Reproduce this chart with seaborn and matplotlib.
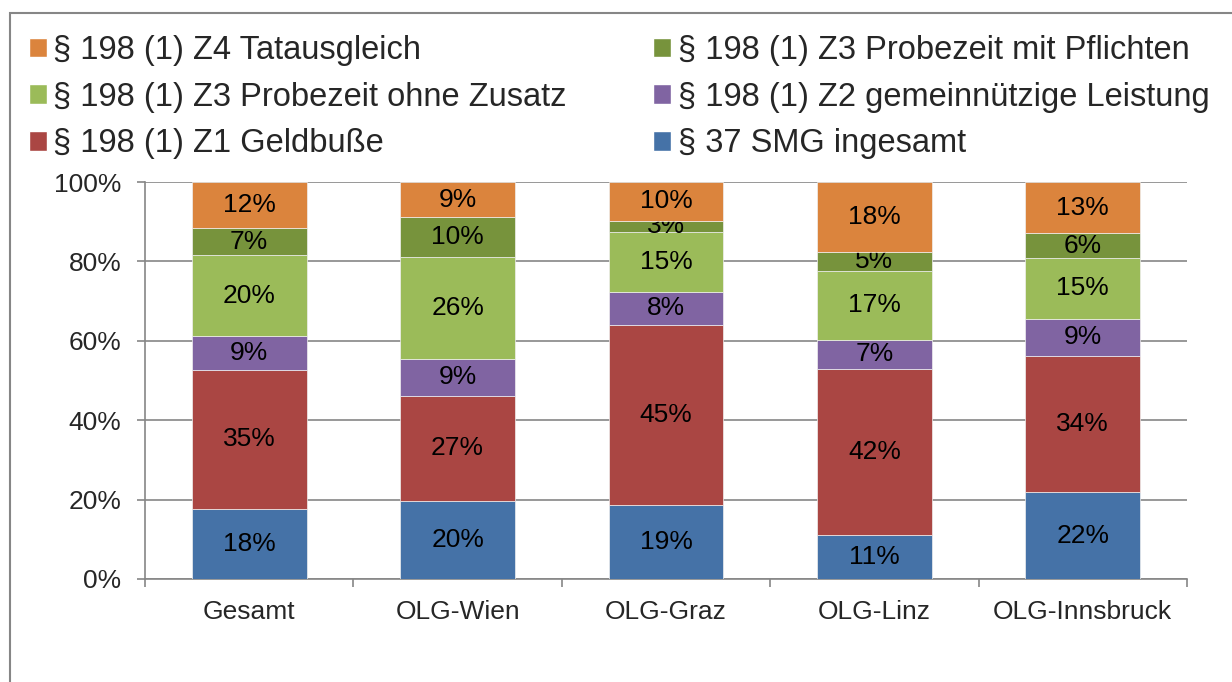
import numpy as np
import matplotlib.pyplot as plt
import matplotlib.patches as patches
from matplotlib.ticker import FixedLocator, FuncFormatter
import seaborn as sns

# --- Data (percent shares per court district) ---
regions = ["Gesamt", "OLG-Wien", "OLG-Graz", "OLG-Linz", "OLG-Innsbruck"]

smg37 = [17.6, 19.6, 18.7, 11.2, 21.8]
z1_geldbusse = [35.1, 26.6, 45.3, 41.8, 34.4]
z2_gemeinnuetzig = [8.6, 9.3, 8.4, 7.2, 9.3]
z3_ohne_zusatz = [20.2, 25.7, 14.9, 17.4, 15.4]
z3_mit_pflichten = [6.9, 9.9, 3.0, 4.8, 6.2]
z4_tatausgleich = [11.6, 8.9, 9.7, 17.6, 12.9]

labels = [
    "§ 37 SMG ingesamt",
    "§ 198 (1) Z1 Geldbuße",
    "§ 198 (1) Z2 gemeinnützige Leistung",
    "§ 198 (1) Z3 Probezeit ohne Zusatz",
    "§ 198 (1) Z3 Probezeit mit Pflichten",
    "§ 198 (1) Z4 Tatausgleich",
]
values = [smg37, z1_geldbusse, z2_gemeinnuetzig, z3_ohne_zusatz, z3_mit_pflichten, z4_tatausgleich]
colors = ["#4572A7", "#AA4643", "#8064A2", "#9BBB59", "#77933C", "#DB843D"]

# --- Style ---
sns.set_style("white")
plt.rcParams["font.family"] = ["Liberation Sans", "DejaVu Sans"]
GRID = "#868686"

fig = plt.figure(figsize=(12.32, 6.82), dpi=100)
ax = fig.add_axes([145 / 1232, 1 - 579 / 682, (1187 - 145) / 1232, (579 - 182) / 682])

# --- Stacked bars ---
bottom = np.zeros(len(regions))
handles = {}
for lab, vals, col in zip(labels, values, colors):
    sns.barplot(x=regions, y=vals, bottom=bottom, color=col, saturation=1,
                width=0.55, errorbar=None, edgecolor="#f0f0f0", linewidth=0.5,
                ax=ax, zorder=3)
    cont = ax.containers[-1]
    ax.bar_label(cont, labels=[f"{v:.0f}%" for v in vals], label_type="center",
                 fontsize=19, color="black")
    handles[lab] = patches.Patch(facecolor=col, label=lab)
    bottom = bottom + np.array(vals)

# --- Axes ---
ax.set_ylim(0, 100)
ax.set_xlim(-0.5, 4.5)
ax.set_yticks(range(0, 101, 20))
ax.yaxis.set_major_formatter(FuncFormatter(lambda v, p: f"{v:.0f}%"))
ax.grid(axis="y", color=GRID, linewidth=1.2, zorder=0)
ax.grid(axis="x", visible=False)
ax.set_xlabel("")
ax.set_ylabel("")

for side in ["top", "right"]:
    ax.spines[side].set_visible(False)
for side in ["left", "bottom"]:
    ax.spines[side].set_color(GRID)
    ax.spines[side].set_linewidth(1.2)

ax.tick_params(axis="y", which="major", left=True, length=6, width=1.2, color=GRID,
               pad=11, labelsize=19)
ax.tick_params(axis="x", which="major", length=0, pad=15, labelsize=19)
ax.xaxis.set_minor_locator(FixedLocator(np.arange(-0.5, 4.6, 1)))
ax.tick_params(axis="x", which="minor", bottom=True, length=6, width=1.2, color=GRID)

# --- Legend (two columns, Excel order) ---
order = [5, 3, 1, 4, 2, 0]
fig.legend([handles[labels[i]] for i in order], [labels[i] for i in order],
           loc="upper left", bbox_to_anchor=(29 / 1232, 1 - 35 / 682), ncol=2,
           frameon=False, fontsize=23.5, handlelength=0.55, handleheight=0.55,
           handletextpad=0.2, columnspacing=2.65, labelspacing=0.48,
           borderpad=0, borderaxespad=0)

# --- Outer chart frame ---
fig.patches.append(patches.Rectangle((10 / 1232, -0.1), 1.1, 1.1 - 12.5 / 682,
                                     transform=fig.transFigure, fill=False,
                                     edgecolor=GRID, linewidth=1.5))

fig.savefig("out.png", dpi=100)
plt.close(fig)
